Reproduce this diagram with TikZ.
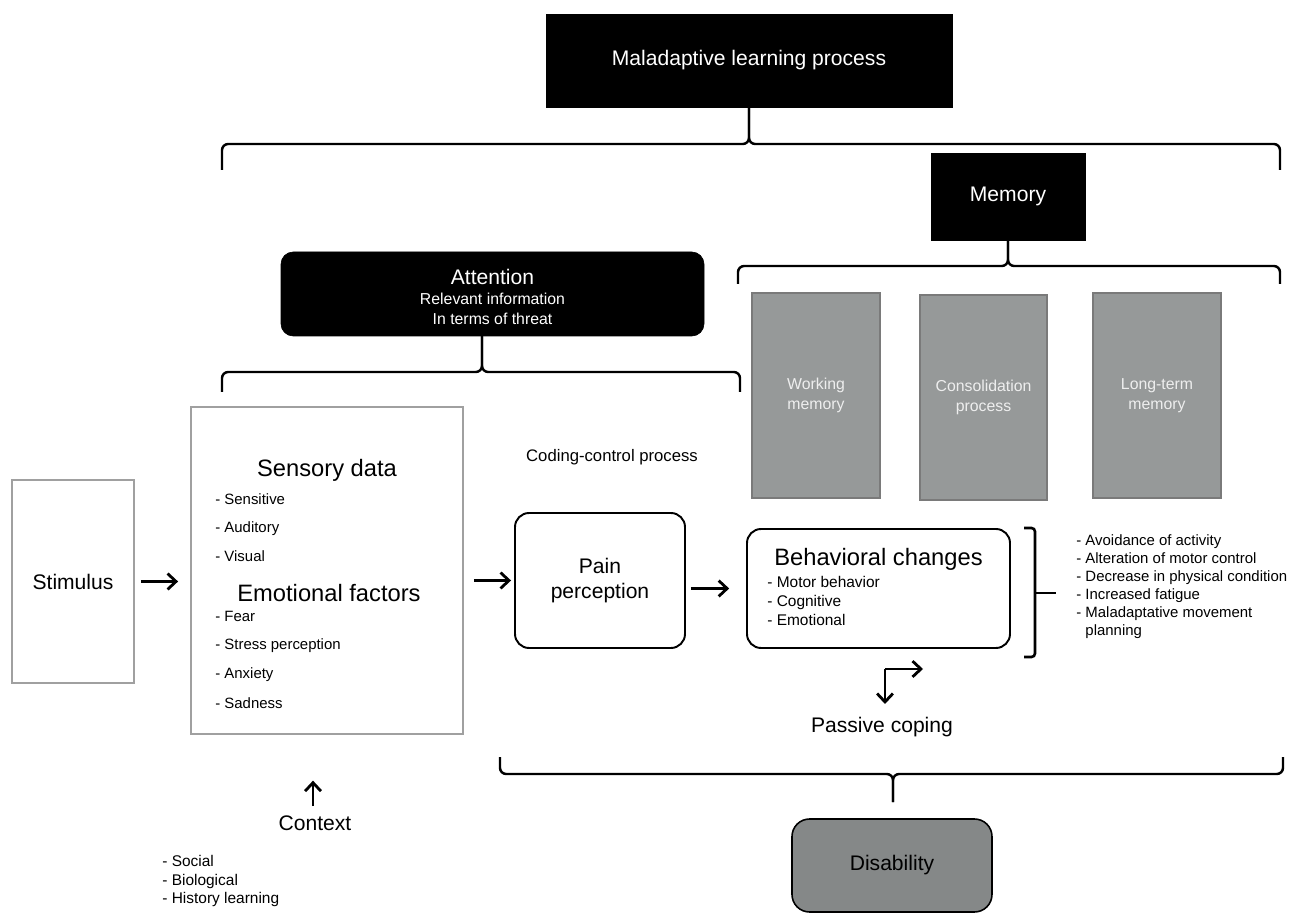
\documentclass[tikz,border=0pt]{standalone}
\usepackage{fontspec}
\setmainfont{Liberation Sans}
\usetikzlibrary{arrows.meta}
\definecolor{boxgray}{HTML}{969999}
\definecolor{boxedge}{HTML}{7A7A7A}
\definecolor{framegray}{HTML}{A0A0A0}
\definecolor{disgray}{HTML}{858888}
\definecolor{memtext}{HTML}{EEEEEE}
\tikzset{
  sz/.style 2 args={minimum width=#1*0.02cm,minimum height=#2*0.02cm},
  blackbox/.style={fill=black,draw=black,text=white,inner sep=0pt},
  graybox/.style={fill=boxgray,draw=boxedge,line width=1.2pt,text=memtext,inner sep=0pt,align=center,font=\fontsize{9}{11.7}\selectfont},
  framebox/.style={draw=framegray,line width=1.1pt,inner sep=0pt},
  roundbox/.style={draw=black,line width=1.1pt,rounded corners=8pt,inner sep=0pt},
  brc/.style={line width=1.4pt,rounded corners=3.5pt},
  arr/.style={line width=1.6pt,-{Straight Barb[length=4.8pt,width=9pt]}},
  big/.style={inner sep=0pt,font=\fontsize{12}{14}\selectfont},
  ttl/.style={inner sep=0pt,font=\fontsize{13.5}{16}\selectfont},
  itm/.style={inner sep=0pt,anchor=base west,font=\fontsize{8.5}{10.2}\selectfont},
  itmb/.style={inner sep=0pt,anchor=base west,font=\fontsize{8.8}{10.5}\selectfont},
}
\begin{document}
\begin{tikzpicture}[x=0.02cm,y=-0.02cm]
\useasboundingbox (0,0) rectangle (1296,915);

% top boxes
\node[blackbox,sz={406}{93},font=\fontsize{12}{14}\selectfont] (mal) at (749,60.5) {Maladaptive learning process};
\node[blackbox,sz={154}{87},font=\fontsize{12}{14}\selectfont] (mem) at (1008,196.5) {Memory};
\node[blackbox,sz={423}{84},rounded corners=7pt] (att) at (492.5,294) {};
\node[big,text=white] (atttitle) at (492.5,277) {Attention};
\node[inner sep=0pt,text=white,font=\fontsize{9}{11}\selectfont] (attl1) at (492.5,299) {Relevant information};
\node[inner sep=0pt,text=white,font=\fontsize{9}{11}\selectfont] (attl2) at (492.5,319) {In terms of threat};

% braces
\draw[brc] (222,170) -- (222,144) -- (mal.south |- 0,144) -- (mal.south);
\draw[brc] (mal.south) -- (mal.south |- 0,144) -- (1280,144) -- (1280,170);
\draw[brc] (738,284) -- (738,266) -- (mem.south |- 0,266) -- (mem.south);
\draw[brc] (mem.south) -- (mem.south |- 0,266) -- (1280,266) -- (1280,284);
\draw[brc] (222,392) -- (222,372) -- (482,372) -- (482,336);
\draw[brc] (482,336) -- (482,372) -- (740,372) -- (740,392);
\draw[brc] (500,757) -- (500,774) -- (893,774) -- (893,802);
\draw[brc] (893,802) -- (893,774) -- (1283,774) -- (1283,757);

% memory boxes
\node[graybox,sz={128}{205}] (wm) at (816,395.5) {Working\\memory};
\node[graybox,sz={127}{205}] (cp) at (983.5,397.5) {Consolidation\\process};
\node[graybox,sz={128}{205}] (ltm) at (1157,395.5) {Long-term\\memory};

% stimulus
\node[framebox,sz={122}{203},font=\fontsize{12}{14}\selectfont] (stim) at (73,581.5) {Stimulus};

% sensory box
\node[framebox,sz={272}{327}] (sens) at (327,570.5) {};
\node[ttl] (sdt) at (327,470) {Sensory data};
\node[itm] (s1) at (215,505) {- Sensitive};
\node[itm] (s2) at (215,533) {- Auditory};
\node[itm] (s3) at (215,562) {- Visual};
\node[ttl] (emo) at (329,593) {Emotional factors};
\node[itm] (e1) at (215,622) {- Fear};
\node[itm] (e2) at (215,650) {- Stress perception};
\node[itm] (e3) at (215,679) {- Anxiety};
\node[itm] (e4) at (215,708) {- Sadness};

% context
\node[big] (ctx) at (315,823) {Context};
\coordinate (ctxa) at (313,806);
\draw[arr,shorten >=26pt] (ctxa) -- (ctxa |- sens.south);
\node[itmb] (c1) at (162,866) {- Social};
\node[itmb] (c2) at (162,885) {- Biological};
\node[itmb] (c3) at (162,903) {- History learning};

% coding
\node[inner sep=0pt,font=\fontsize{9.5}{11}\selectfont] (code) at (612,457) {Coding-control process};

% pain
\node[roundbox,sz={170}{135},align=center,font=\fontsize{12}{14.7}\selectfont] (pain) at (600,580.5) {Pain\\perception};

% behavioral
\node[roundbox,sz={263}{119}] (beh) at (878.5,588.5) {};
\node[ttl] (behttl) at (878.5,559) {Behavioral changes};
\node[itmb] (b1) at (767,588) {- Motor behavior};
\node[itmb] (b2) at (767,607) {- Cognitive};
\node[itmb] (b3) at (767,625) {- Emotional};

% arrows
\draw[arr,shorten <=3.4pt,shorten >=6.8pt] (stim.east) -- (stim.east -| sens.west);
\draw[arr,shorten <=5.7pt,shorten >=1.7pt] (pain.west -| sens.east) -- (pain.west);
\draw[arr,shorten <=2.8pt,shorten >=9.6pt] (beh.west -| pain.east) -- (beh.west);

% right bracket and list
\draw[line width=1.5pt,rounded corners=2pt] (1024,528) -- (1035,528) -- (1035,657) -- (1024,657);
\coordinate (tick) at (1056,593);
\draw[line width=1.5pt] (tick -| 1035,0) -- (tick);
\node[itm] (r1) at (1076,546) {- Avoidance of activity};
\node[itm] (r2) at (1076,564) {- Alteration of motor control};
\node[itm] (r3) at (1076,582) {- Decrease in physical condition};
\node[itm] (r4) at (1076,600) {- Increased fatigue};
\node[itm] (r5) at (1076,618) {- Maladaptative movement};
\node[itm] (r6) at (1076,636) {\phantom{- }planning};

% passive coping
\node[big] (pc) at (882,727) {Passive coping};
\coordinate (pcorner) at (885,669);
\coordinate (pcright) at (923,669);
\coordinate (pcdown) at (885,704);
\draw[arr] (pcorner) -- (pcright);
\draw[arr] (pcorner) -- (pcdown);

% disability
\node[draw=black,fill=disgray,line width=0.9pt,rounded corners=10pt,sz={200}{93},font=\fontsize{12}{14}\selectfont] (dis) at (892,865.5) {Disability};
\end{tikzpicture}
\end{document}
